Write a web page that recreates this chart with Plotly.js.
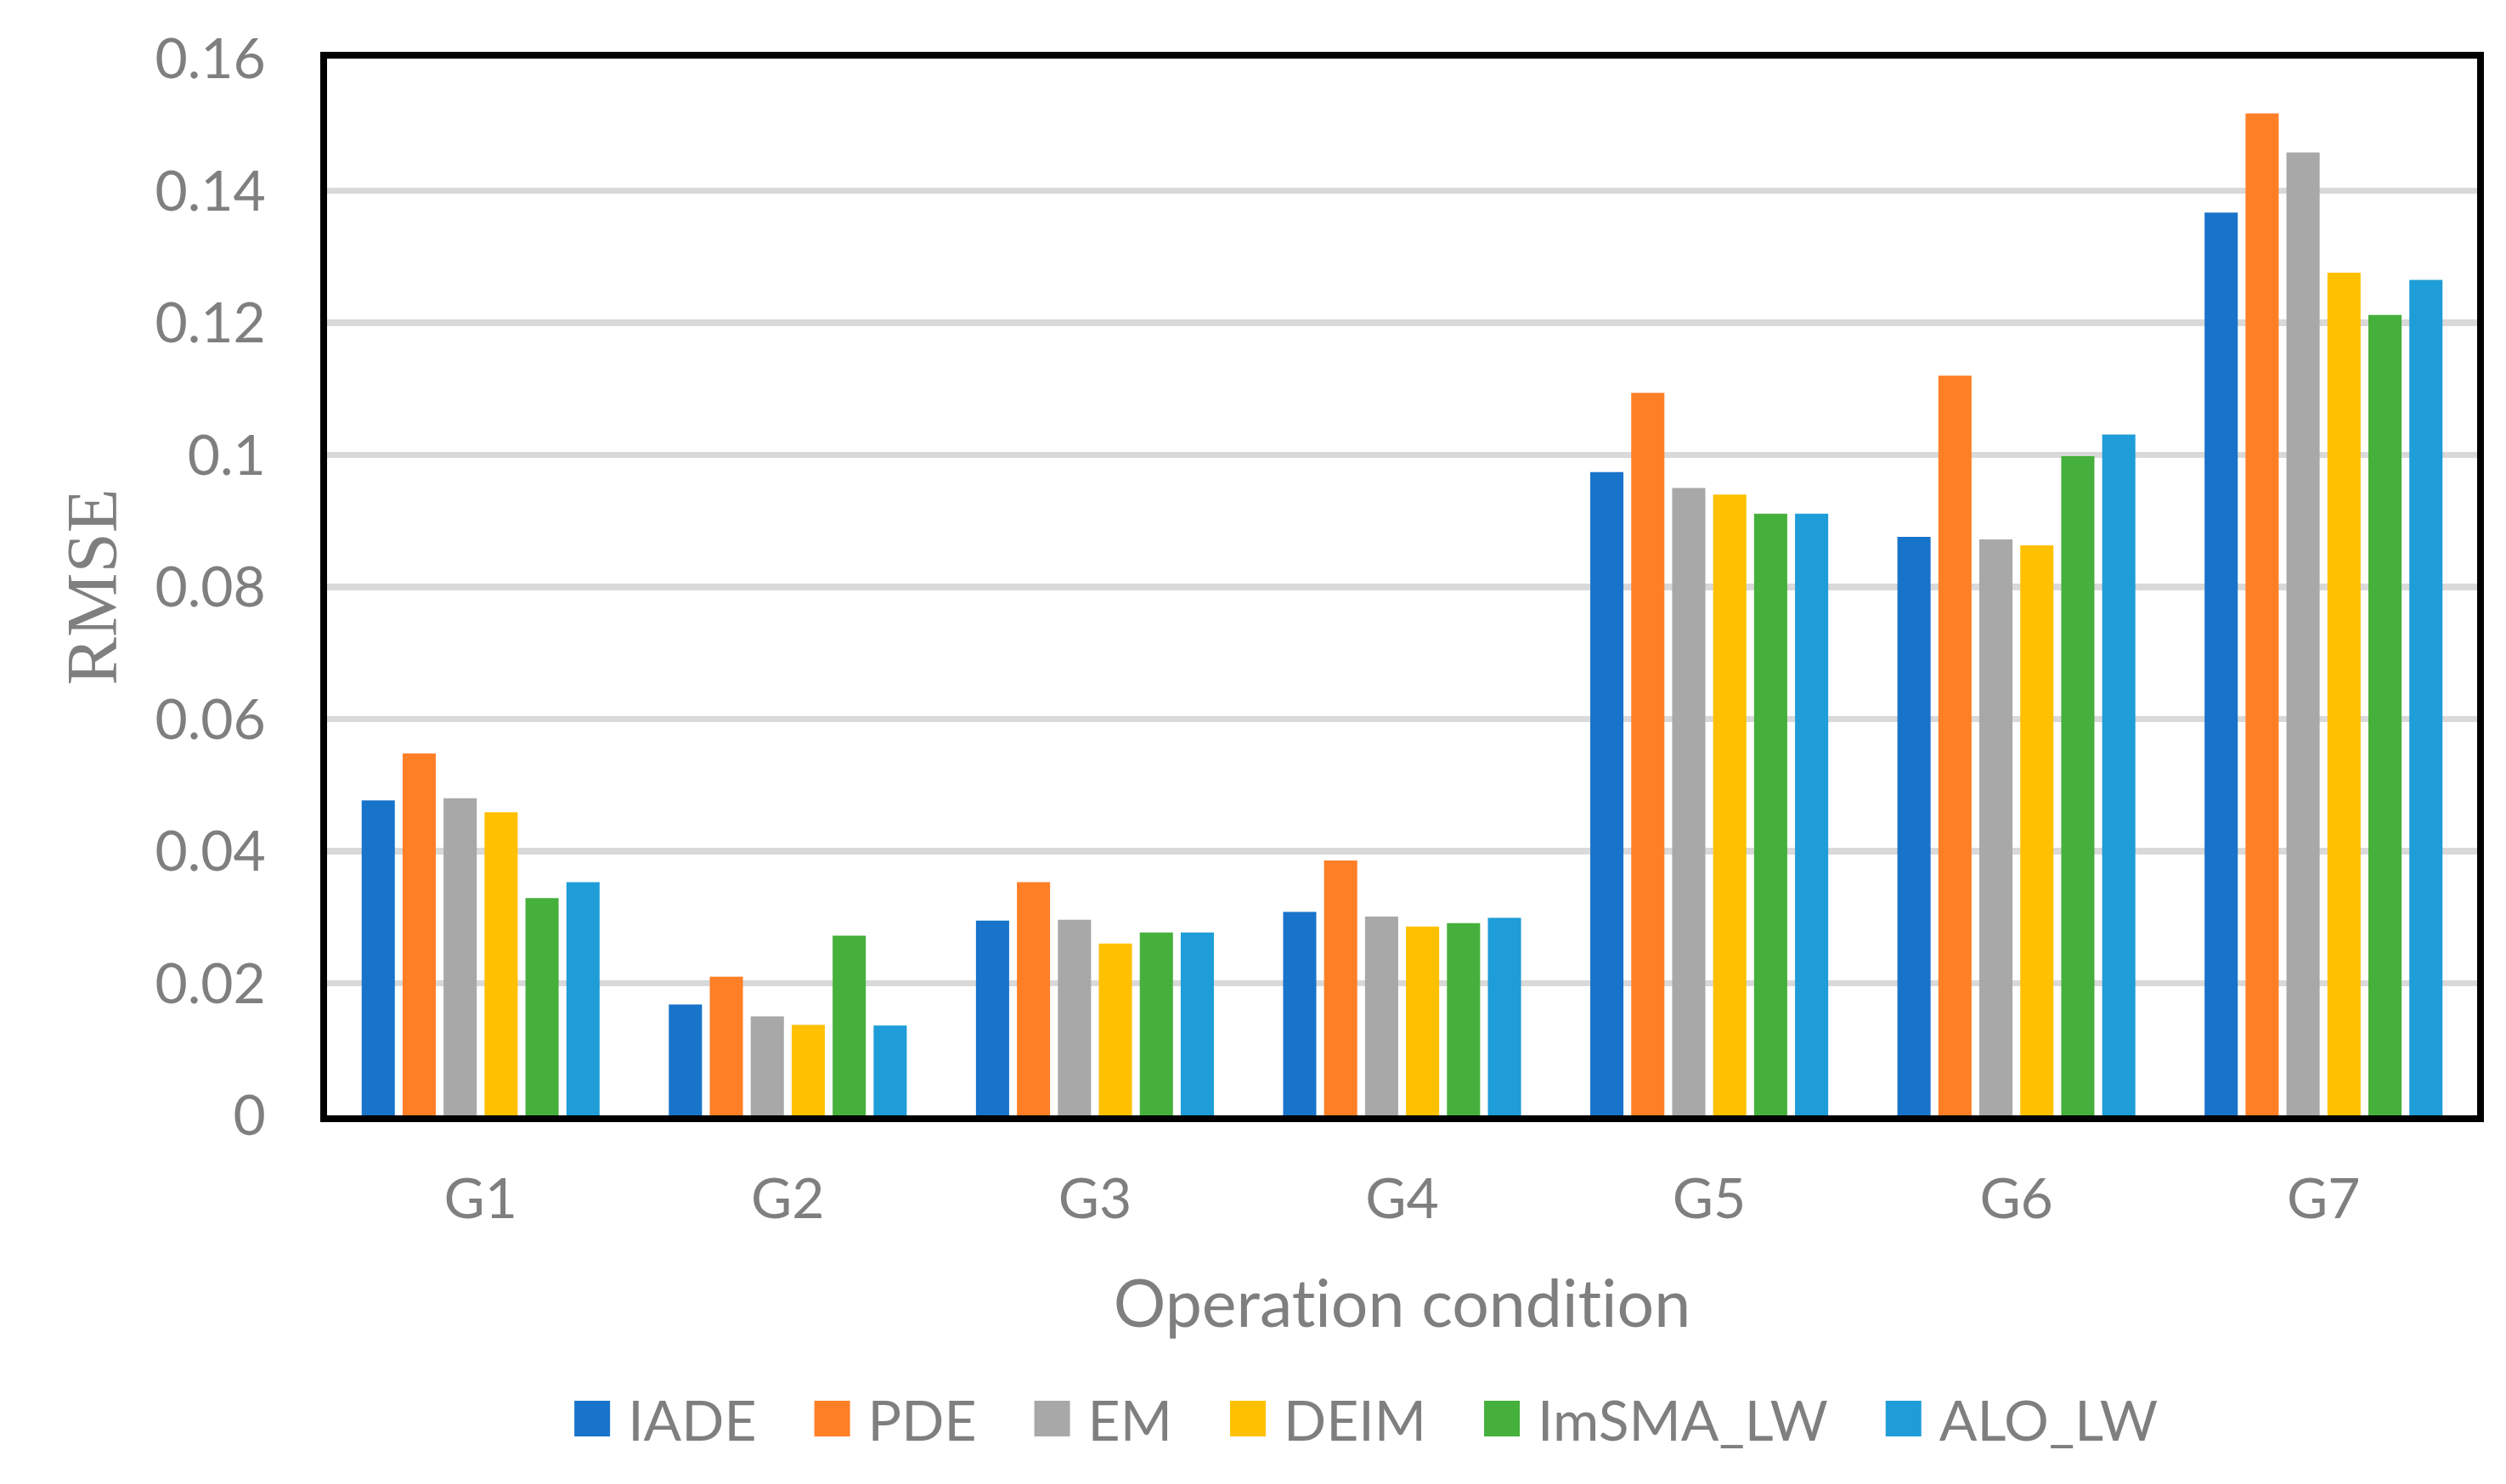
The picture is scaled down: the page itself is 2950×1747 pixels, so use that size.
<!DOCTYPE html>
<html>
<head>
<meta charset="utf-8">
<script src="https://cdn.plot.ly/plotly-3.0.1.min.js"></script>
<style>
html,body{margin:0;padding:0;background:#fff;}
#chart{width:2950px;height:1747px;}
#chart text{font-variant-ligatures:none !important;font-feature-settings:"liga" 0,"clig" 0 !important;}
</style>
</head>
<body>
<div id="chart"></div>
<script>
const categories = ['G1','G2','G3','G4','G5','G6','G7'];
const seriesNames = ['IADE','PDE','EM','DEIM','ImSMA_LW','ALO_LW'];
const IADE     = [0.0477, 0.0168, 0.0295, 0.0308, 0.0974, 0.0876, 0.1367];
const PDE      = [0.0548, 0.0210, 0.0353, 0.0386, 0.1094, 0.1120, 0.1517];
const EM       = [0.0480, 0.0150, 0.0296, 0.0301, 0.0950, 0.0872, 0.1458];
const DEIM     = [0.0459, 0.0137, 0.0260, 0.0286, 0.0940, 0.0863, 0.1276];
const ImSMA_LW = [0.0329, 0.0272, 0.0277, 0.0291, 0.0911, 0.0998, 0.1212];
const ALO_LW   = [0.0353, 0.0136, 0.0277, 0.0299, 0.0911, 0.1031, 0.1265];
const yTickVals = [0, 0.02, 0.04, 0.06, 0.08, 0.1, 0.12, 0.14, 0.16];
const yTickText = ['0','0.02','0.04','0.06','0.08','0.1','0.12','0.14','0.16'];

const seriesValues = [IADE, PDE, EM, DEIM, ImSMA_LW, ALO_LW];
const colors = ['#1874CA','#FF7F27','#A8A8A8','#FFC000','#45B03B','#1E9DD8'];
const grey = '#7F7F7F';

const traces = seriesNames.map((n, i) => ({
  type: 'bar', name: n, x: categories, y: seriesValues[i],
  marker: {color: colors[i], line: {width: 0}}
}));

const layout = {
  width: 2950, height: 1747,
  margin: {l: 385, r: 34, t: 69, b: 434},
  paper_bgcolor: '#fff', plot_bgcolor: '#fff',
  barmode: 'group', bargap: 0.20, bargroupgap: 0.19,
  font: {family: 'Lato, "Open Sans", sans-serif', color: grey, size: 66},
  xaxis: {
    type: 'category',
    showline: true, mirror: true, linecolor: '#000', linewidth: 8,
    showgrid: false, zeroline: false, ticks: '',
    ticklabelstandoff: 34,
    tickfont: {size: 66, color: grey},
    title: {text: 'Operation condition', font: {size: 77, color: grey}, standoff: 64}
  },
  yaxis: {
    range: [0, 0.16], tickvals: yTickVals, ticktext: yTickText,
    showline: true, mirror: true, linecolor: '#000', linewidth: 8,
    showgrid: true, gridcolor: '#D9D9D9', gridwidth: 7.5, zeroline: false, ticks: '',
    ticklabelstandoff: 51,
    tickfont: {size: 66, color: grey},
    title: {text: 'RMSE', font: {family: '"Liberation Serif", "Times New Roman", serif', size: 85, color: grey}, standoff: 20}
  },
  showlegend: true,
  legend: {
    orientation: 'h', xanchor: 'center', yanchor: 'middle', x: 0.472, y: -0.287,
    font: {size: 66, color: grey}, itemwidth: 116, traceorder: 'normal',
    bgcolor: 'rgba(0,0,0,0)'
  }
};

Plotly.newPlot('chart', traces, layout, {staticPlot: true}).then(() => {
  document.querySelectorAll('.legend .traces').forEach(tr => {
    const txt = tr.querySelector('text.legendtext');
    const p = tr.querySelector('.legendpoints path');
    if (!txt || !p) return;
    const parent = p.parentNode;
    const ctm = parent.getScreenCTM();
    const textLeft = txt.getBoundingClientRect().left;
    const pr = p.getBoundingClientRect();
    const cyScreen = pr.top + pr.height / 2;
    const cx = (textLeft - 42) - ctm.e;
    const cy = cyScreen - ctm.f;
    p.setAttribute('transform', 'translate(' + cx + ',' + cy + ') scale(3.5)');
  });
});
</script>
</body>
</html>
